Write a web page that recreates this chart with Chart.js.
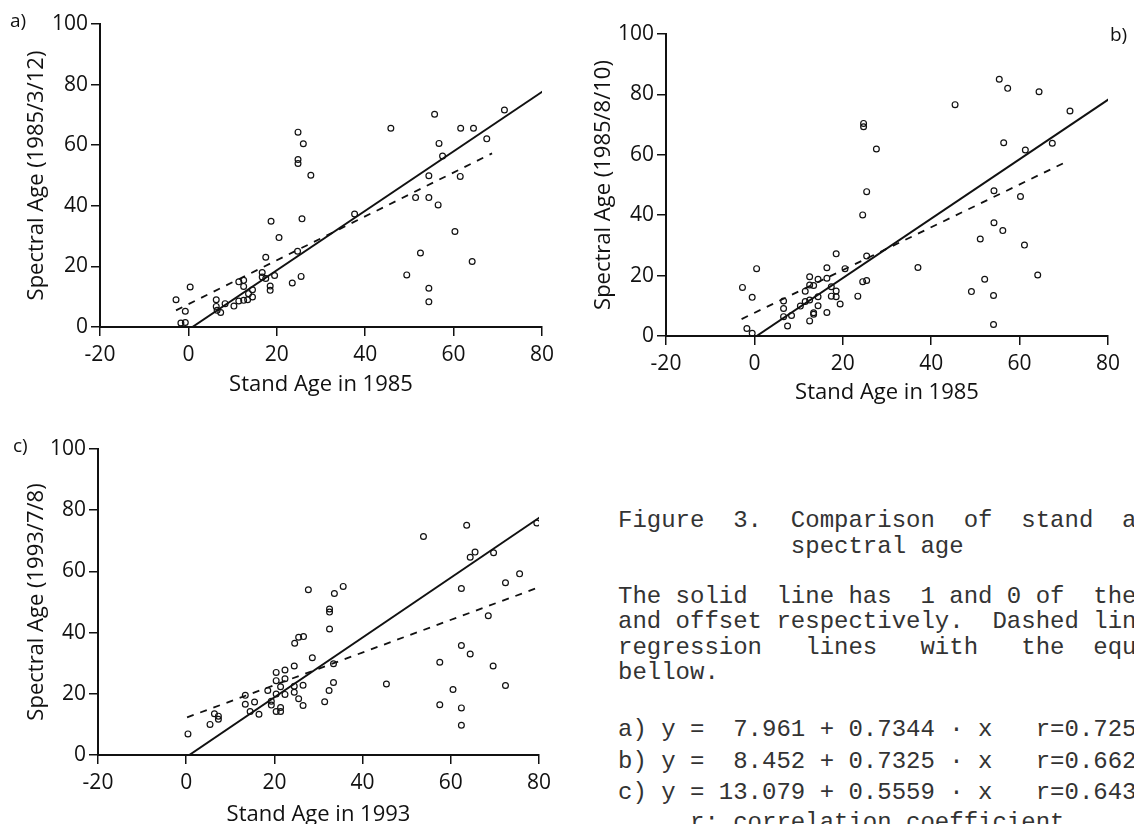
<!DOCTYPE html>
<html>
<head>
<meta charset="utf-8">
<title>Figure 3</title>
<script src="https://cdn.jsdelivr.net/npm/chart.js@4.4.1/dist/chart.umd.min.js"></script>
<style>
	body { margin: 0; background: #fff; width: 1134px; height: 824px; overflow: hidden; position: relative; }
	canvas { position: absolute; }
	.tag { position: absolute; font-family: 'Open Sans', sans-serif; font-size: 19px; line-height: 1; color: #111; }
	.cap { position: absolute; left: 618px; font-family: 'Liberation Mono', monospace; font-size: 24px; line-height: 1; color: #333; white-space: pre; }
</style>
</head>
<body>
<canvas id="chartA" width="570" height="410" style="left:0;top:0"></canvas>
<canvas id="chartB" width="574" height="420" style="left:560px;top:0"></canvas>
<canvas id="chartC" width="570" height="420" style="left:0;top:420px"></canvas>

<div class="tag" style="left:10px;top:11px">a)</div>
<div class="tag" style="left:1110px;top:25px">b)</div>
<div class="tag" style="left:13px;top:436px">c)</div>

<div class="cap" style="top:509px">Figure  3.  Comparison  of  stand  age and</div>
<div class="cap" style="top:535px">            spectral age</div>
<div class="cap" style="top:585px">The solid  line has  1 and 0 of  the slope</div>
<div class="cap" style="top:610px">and offset respectively.  Dashed lines are</div>
<div class="cap" style="top:636px">regression   lines   with   the  equations</div>
<div class="cap" style="top:661px">bellow.</div>
<div class="cap" style="top:718px">a) y =  7.961 + 0.7344 · x   r=0.725</div>
<div class="cap" style="top:750px">b) y =  8.452 + 0.7325 · x   r=0.662</div>
<div class="cap" style="top:781px">c) y = 13.079 + 0.5559 · x   r=0.643</div>
<div class="cap" style="top:811px">     r: correlation coefficient</div>

<script>
// axis ticks
const xTicks = [-20, 0, 20, 40, 60, 80];
const yTicks = [0, 20, 40, 60, 80, 100];

// a) spectral age 1985/3/12 vs stand age 1985
const standA = [-2.8, -1.7, -0.7, -0.7, 0.4, 6.3, 6.3, 6.5, 7.3, 8.3, 10.3, 11.4, 11.4, 12.5, 12.5, 12.5, 13.4, 13.6, 14.5, 14.5,
	16.7, 16.7, 17.5, 17.5, 18.5, 18.5, 18.7, 19.5, 20.5, 23.5, 24.7, 24.8, 24.8, 24.8, 25.5, 25.7, 26.0, 27.7, 37.6, 45.8,
	49.4, 51.4, 52.5, 54.4, 54.4, 54.4, 54.4, 55.7, 56.5, 56.7, 57.5, 60.3, 61.5, 61.6, 64.2, 64.5, 67.5, 71.5];
const specA = [9.0, 1.3, 1.5, 5.2, 13.2, 9.0, 6.8, 5.5, 4.8, 7.7, 6.9, 8.6, 14.9, 15.4, 13.4, 8.8, 9.0, 11.0, 12.3, 9.9,
	18.0, 16.5, 16.0, 23.0, 13.5, 12.1, 34.9, 17.0, 29.5, 14.5, 25.0, 64.3, 55.3, 54.0, 16.7, 35.7, 60.5, 50.1, 37.3, 65.6,
	17.2, 42.7, 24.4, 49.9, 42.7, 12.8, 8.3, 70.2, 40.3, 60.6, 56.4, 31.5, 49.7, 65.6, 21.6, 65.6, 62.1, 71.6];
const solidAx = [0.9, 80.3], solidAy = [0, 77.9];
const dashAx = [-2.8, 68.7], dashAy = [5.5, 57.3];

// b) spectral age 1985/8/10 vs stand age 1985
const standB = [-2.7, -1.7, -0.5, -0.5, 0.5, 6.6, 6.6, 6.6, 7.5, 8.4, 10.4, 11.5, 11.5, 12.5, 12.5, 12.5, 12.5, 13.4, 13.4, 13.4,
	14.4, 14.4, 14.4, 16.4, 16.4, 16.4, 17.4, 17.4, 18.5, 18.5, 18.5, 19.4, 20.5, 23.4, 24.5, 24.5, 24.7, 24.7, 25.4, 25.4,
	25.4, 27.6, 37.0, 45.4, 49.1, 51.1, 52.1, 54.1, 54.1, 54.2, 54.2, 55.4, 56.2, 56.4, 57.3, 60.2, 61.1, 61.3, 64.1, 64.4,
	67.4, 71.4];
const specB = [16.1, 2.5, 12.8, 0.9, 22.3, 11.6, 9.1, 6.4, 3.3, 6.8, 9.9, 11.4, 14.8, 19.6, 16.9, 11.9, 5.0, 16.7, 7.7, 7.2,
	18.8, 13.0, 10.0, 22.6, 19.1, 7.8, 16.3, 13.2, 27.2, 14.9, 13.0, 10.6, 22.3, 13.2, 40.1, 18.0, 70.4, 69.3, 47.8, 26.5,
	18.4, 61.9, 22.7, 76.6, 14.7, 32.1, 18.8, 13.4, 3.8, 37.5, 48.1, 85.0, 34.9, 64.0, 82.0, 46.2, 30.1, 61.6, 20.2, 80.9,
	63.8, 74.5];
const solidBx = [0.5, 80.2], solidBy = [0, 78.4];
const dashBx = [-2.9, 70.6], dashBy = [5.6, 57.7];

// c) spectral age 1993/7/8 vs stand age 1993
const standC = [0.4, 5.4, 6.4, 7.3, 7.3, 13.4, 13.4, 14.5, 15.5, 16.5, 18.5, 19.3, 19.3, 20.4, 20.4, 20.4, 20.4, 21.4, 21.4, 21.4,
	22.4, 22.4, 22.4, 24.5, 24.5, 24.5, 24.6, 25.5, 25.5, 26.5, 26.5, 26.6, 27.7, 28.6, 31.4, 32.4, 32.5, 32.5, 32.5, 33.4,
	33.4, 33.6, 35.6, 45.4, 53.8, 57.5, 57.5, 60.5, 62.4, 62.4, 62.4, 62.4, 63.6, 64.4, 65.5, 64.4, 68.5, 69.6, 69.7, 72.4,
	72.4, 75.6, 79.5];
const specC = [6.9, 10.0, 13.5, 12.7, 11.7, 19.5, 16.6, 14.2, 17.3, 13.3, 21.1, 17.6, 16.3, 27.0, 24.3, 19.9, 14.2, 15.5, 14.2, 22.3,
	27.8, 24.9, 19.8, 29.1, 22.5, 20.5, 36.5, 38.5, 18.4, 22.8, 16.2, 38.7, 54.0, 31.8, 17.4, 21.1, 41.2, 47.7, 46.7, 29.8,
	23.7, 52.8, 55.1, 23.2, 71.4, 30.3, 16.4, 21.4, 54.4, 35.8, 15.4, 9.7, 75.1, 64.6, 66.3, 33.0, 45.5, 29.1, 66.1, 56.3,
	22.7, 59.2, 75.8];
const solidCx = [0.7, 80.2], solidCy = [0, 77.7];
const dashCx = [0.2, 79.4], dashCy = [12.3, 54.5];

function pts(xs, ys) {
	return xs.map((x, i) => ({ x: x, y: ys[i] }));
}

const ink = '#111';

function makePanel(id, o) {
	return new Chart(document.getElementById(id), {
		type: 'scatter',
		data: {
			datasets: [
				{ data: pts(o.x, o.y), pointRadius: 2.9, pointBorderWidth: 1.2, borderColor: ink, backgroundColor: 'rgba(255,255,255,0)' },
				{ data: pts(o.solidX, o.solidY), showLine: true, borderColor: ink, borderWidth: 2, pointRadius: 0 },
				{ data: pts(o.dashX, o.dashY), showLine: true, borderColor: ink, borderWidth: 1.8, borderDash: [7, 7], pointRadius: 0 }
			]
		},
		options: {
			responsive: false,
			animation: false,
			layout: { padding: { left: 0, top: o.top, right: o.right, bottom: 0 } },
			plugins: { legend: { display: false }, tooltip: { enabled: false } },
			scales: {
				x: {
					type: 'linear', min: -20, max: 80,
					afterBuildTicks: s => { s.ticks = xTicks.map(v => ({ value: v })); },
					afterFit: s => { s.height = o.xh; },
					grid: { drawOnChartArea: false, tickLength: 9, color: ink, lineWidth: 1.5 },
					border: { color: ink, width: 2 },
					ticks: { color: ink, font: { family: 'Open Sans', size: 21 }, padding: 6, maxRotation: 0, autoSkip: false },
					title: { display: true, text: o.xTitle, color: ink, font: { family: 'Open Sans', size: 22 }, padding: { top: 0, bottom: o.xtb } }
				},
				y: {
					type: 'linear', min: 0, max: 100,
					afterBuildTicks: s => { s.ticks = yTicks.map(v => ({ value: v })); },
					afterFit: s => { s.width = o.yw; },
					grid: { drawOnChartArea: false, tickLength: 9, color: ink, lineWidth: 1.5 },
					border: { color: ink, width: 2 },
					ticks: { color: ink, font: { family: 'Open Sans', size: 21 }, padding: 3, autoSkip: false },
					title: { display: true, text: o.yTitle, color: ink, font: { family: 'Open Sans', size: 22 }, padding: { top: o.ytp, bottom: 0 } }
				}
			}
		}
	});
}

makePanel('chartA', {
	x: standA, y: specA, solidX: solidAx, solidY: solidAy, dashX: dashAx, dashY: dashAy,
	xTitle: 'Stand Age in 1985', yTitle: 'Spectral Age (1985/3/12)',
	top: 24, right: 28, yw: 100, xh: 83, xtb: 12, ytp: 24
});
makePanel('chartB', {
	x: standB, y: specB, solidX: solidBx, solidY: solidBy, dashX: dashBx, dashY: dashBy,
	xTitle: 'Stand Age in 1985', yTitle: 'Spectral Age (1985/8/10)',
	top: 34, right: 26, yw: 106, xh: 84, xtb: 14, ytp: 31
});
makePanel('chartC', {
	x: standC, y: specC, solidX: solidCx, solidY: solidCy, dashX: dashCx, dashY: dashCy,
	xTitle: 'Stand Age in 1993', yTitle: 'Spectral Age (1993/7/8)',
	top: 29, right: 31, yw: 98, xh: 85, xtb: 12, ytp: 24
});
</script>
</body>
</html>
